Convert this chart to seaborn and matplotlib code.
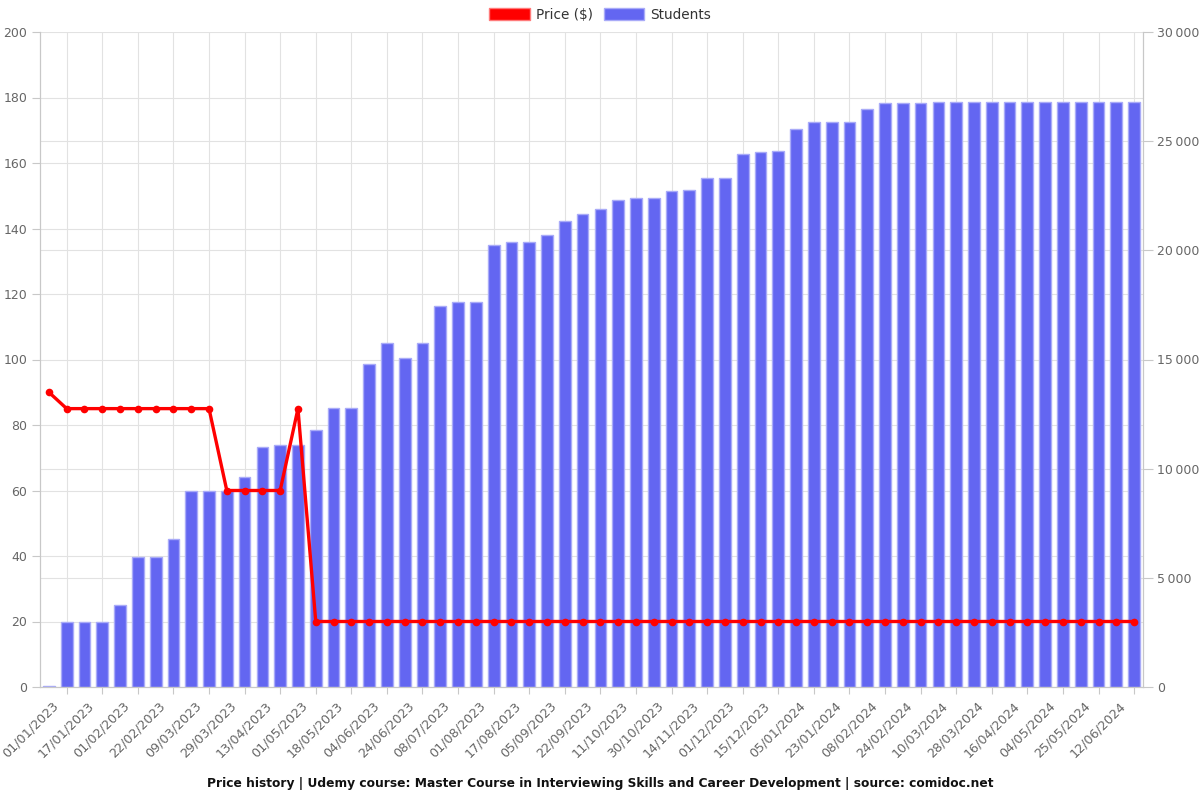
import matplotlib
matplotlib.use('Agg')
import matplotlib.pyplot as plt
import matplotlib.transforms as mtransforms
from matplotlib.patches import Patch
from matplotlib.ticker import FuncFormatter, FixedLocator
import seaborn as sns
import numpy as np
import pandas as pd

# ---------------- data ----------------
tick_dates = [
    "01/01/2023", "17/01/2023", "01/02/2023", "22/02/2023", "09/03/2023",
    "29/03/2023", "13/04/2023", "01/05/2023", "18/05/2023", "04/06/2023",
    "24/06/2023", "08/07/2023", "01/08/2023", "17/08/2023", "05/09/2023",
    "22/09/2023", "11/10/2023", "30/10/2023", "14/11/2023", "01/12/2023",
    "15/12/2023", "05/01/2024", "23/01/2024", "08/02/2024", "24/02/2024",
    "10/03/2024", "28/03/2024", "16/04/2024", "04/05/2024", "25/05/2024",
    "12/06/2024",
]

price = [
    90, 85, 85, 85, 85, 85, 85, 85, 85, 85,
    60, 60, 60, 60, 85, 20, 20, 20, 20, 20,
    20, 20, 20, 20, 20, 20, 20, 20, 20, 20,
    20, 20, 20, 20, 20, 20, 20, 20, 20, 20,
    20, 20, 20, 20, 20, 20, 20, 20, 20, 20,
    20, 20, 20, 20, 20, 20, 20, 20, 20, 20,
    20, 20,
]

students = [
    30, 2980, 2980, 2980, 3760, 5960, 5960, 6780, 8980, 8980,
    8980, 9620, 10990, 11080, 11080, 11770, 12780, 12780, 14790, 15760,
    15070, 15760, 17450, 17630, 17630, 20240, 20380, 20380, 20700, 21340,
    21660, 21890, 22300, 22400, 22400, 22720, 22760, 23310, 23310, 24410,
    24500, 24550, 25560, 25880, 25880, 25880, 26470, 26750, 26750, 26750,
    26790, 26790, 26790, 26790, 26790, 26790, 26790, 26790, 26790, 26790,
    26790, 26790,
]

title = ("Price history | Udemy course: Master Course in Interviewing Skills "
         "and Career Development | source: comidoc.net")

# ---------------- style ----------------
sns.set_theme(style="white")
plt.rcParams['font.family'] = ['DejaVu Sans']

BAR = '#6366F1'
BAR_EDGE = '#a9abf8'
RED = '#FF0000'
GRID = '#e2e2e2'
AXIS = '#c8c8c8'
TXT = '#666666'

fig = plt.figure(figsize=(12, 8), dpi=100)
ax = fig.add_axes([40 / 1200, 1 - 687 / 800, (1143 - 40) / 1200, (687 - 32) / 800])
ax2 = ax.twinx()
ax.set_zorder(ax2.get_zorder() + 1)
ax.patch.set_visible(False)

n = len(students)
df = pd.DataFrame({'pos': np.arange(n), 'students': students, 'price': price})

sns.barplot(data=df, x='pos', y='students', ax=ax2, color=BAR, saturation=1,
            width=0.66, edgecolor=BAR_EDGE, linewidth=1, native_scale=True, zorder=2)
sns.lineplot(data=df, x='pos', y='price', ax=ax, color=RED, linewidth=2.4,
             marker='o', markersize=5.5, markeredgewidth=0, zorder=3)

# limits
ax.set_xlim(-0.5, n - 0.5)
ax.set_ylim(0, 200)
ax2.set_ylim(0, 30000)

# y ticks
ax.set_yticks(np.arange(0, 201, 20))
ax2.yaxis.set_major_locator(FixedLocator(np.arange(0, 30001, 5000)))
ax2.yaxis.set_minor_locator(FixedLocator(np.arange(0, 30001, 3000)))
ax2.yaxis.set_major_formatter(FuncFormatter(
    lambda v, p: f"{int(v):,}".replace(",", "\u202f")))

ax2.grid(True, which='both', axis='y', color=GRID, linewidth=0.8, zorder=0)
ax2.set_axisbelow(True)
for x in range(1, n, 2):
    ax2.axvline(x, color=GRID, linewidth=0.8, zorder=0)

ax.tick_params(axis='y', which='major', length=6, width=0.8, color=AXIS,
               labelsize=9, labelcolor=TXT, pad=3, left=True)
ax2.tick_params(axis='y', which='major', length=7, width=0.8, color=AXIS,
                labelsize=9, labelcolor=TXT, pad=3, right=True)
ax2.tick_params(axis='y', which='minor', length=0)

# x ticks: labels at even positions, tick marks at odd positions
ax.xaxis.set_major_locator(FixedLocator(np.arange(0, n, 2)))
ax.xaxis.set_minor_locator(FixedLocator(np.arange(1, n, 2)))
ax.set_xticklabels(tick_dates, rotation=45, ha='right', rotation_mode='anchor')
ax.tick_params(axis='x', which='major', length=0, labelsize=9.2, labelcolor=TXT, pad=9)
ax.tick_params(axis='x', which='minor', length=5, width=0.8, color=AXIS, bottom=True)
offset = mtransforms.ScaledTranslation(3 / 100, 0, fig.dpi_scale_trans)
for lab in ax.get_xticklabels():
    lab.set_transform(lab.get_transform() + offset)

for a in (ax, ax2):
    a.set_xlabel('')
    a.set_ylabel('')
    a.spines['top'].set_visible(False)
    for s in ('left', 'right', 'bottom'):
        a.spines[s].set_color(AXIS)
        a.spines[s].set_linewidth(0.8)

# legend
handles = [Patch(facecolor=RED, edgecolor='#ff7a7a', linewidth=1),
           Patch(facecolor=BAR, edgecolor=BAR_EDGE, linewidth=1)]
fig.legend(handles=handles, labels=['Price ($)', 'Students'], loc='center',
           bbox_to_anchor=(0.5, 1 - 15 / 800), ncol=2, frameon=False,
           handlelength=3.0, handleheight=1.0, handletextpad=0.4,
           columnspacing=0.8, fontsize=9.8, labelcolor='#333333')

fig.text(0.5, 1 - 783 / 800, title, ha='center', va='center',
         fontweight='bold', fontsize=8.8, color='#111111')

fig.savefig('out.png', dpi=100, facecolor='white')
